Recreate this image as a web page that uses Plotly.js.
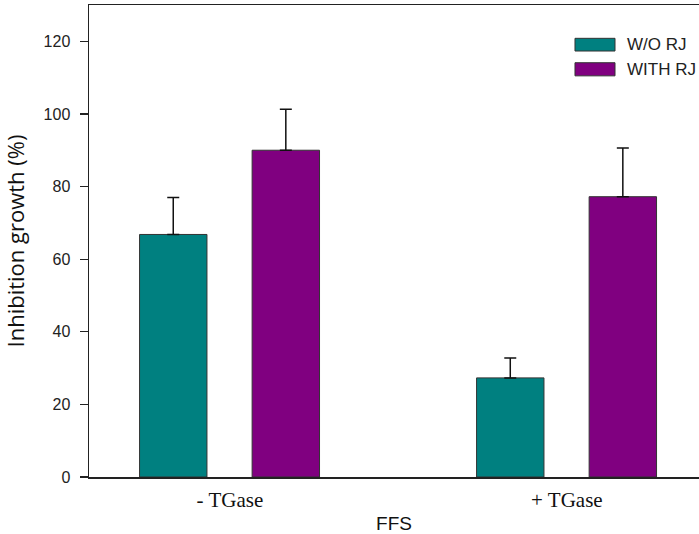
<!DOCTYPE html>
<html>
<head>
<meta charset="utf-8">
<script src="https://cdn.plot.ly/plotly-3.0.1.min.js"></script>
<style>html,body{margin:0;padding:0;background:#fff;}#chart{width:699px;height:534px;}</style>
</head>
<body>
<div id="chart"></div>
<script>
// ---- data ----
var categories = ["- TGase", "+ TGase"];
var seriesNames = ["W/O RJ", "WITH RJ"];
var withoutRJ = [66.8, 27.3];
var withoutRJErr = [10.2, 5.5];
var withRJ = [90.0, 77.2];
var withRJErr = [11.3, 13.4];
var yTickVals = [0, 20, 40, 60, 80, 100, 120];

var colors = ["#008080", "#800080"];
var values = [withoutRJ, withRJ];
var errs = [withoutRJErr, withRJErr];
var offsets = [-0.268, 0.066];

var traces = values.map(function (v, i) {
  return {
    type: "bar",
    name: seriesNames[i],
    x: categories,
    y: v,
    width: 0.2,
    offset: offsets[i],
    marker: { color: colors[i], line: { color: "#333333", width: 1 } },
    error_y: {
      type: "data",
      symmetric: false,
      array: errs[i],
      arrayminus: v.map(function () { return 0; }),
      color: "#111111",
      thickness: 1.5,
      width: 6
    },
    showlegend: false
  };
});

// manual legend (wide swatches like the reference)
var legBoxes = [[0.9025, 0.9294], [0.8499, 0.8777]];
var legTextY = [0.9167, 0.8643];
var shapes = [];
var annotations = [];
seriesNames.forEach(function (n, i) {
  shapes.push({
    type: "rect", xref: "paper", yref: "paper",
    x0: 0.7967, x1: 0.8623, y0: legBoxes[i][0], y1: legBoxes[i][1],
    fillcolor: colors[i], line: { color: "#333333", width: 1 }
  });
  annotations.push({
    xref: "paper", yref: "paper", x: 0.8787, y: legTextY[i],
    xanchor: "left", yanchor: "middle", showarrow: false, text: n,
    font: { family: "Liberation Sans, Arial, sans-serif", size: 17, color: "#222222" }
  });
});

var layout = {
  width: 699,
  height: 534,
  margin: { l: 89, r: 0, t: 5, b: 57, pad: 0 },
  paper_bgcolor: "#ffffff",
  plot_bgcolor: "#ffffff",
  barmode: "overlay",
  showlegend: false,
  xaxis: {
    type: "category",
    range: [-0.418, 1.392],
    showline: true,
    mirror: true,
    linecolor: "#222222",
    linewidth: 1.5,
    ticks: "",
    showgrid: false,
    zeroline: false,
    ticklabelstandoff: 3,
    tickfont: { family: "Liberation Serif, Times New Roman, serif", size: 21, color: "#111111" },
    title: {
      text: "FFS",
      font: { family: "Liberation Sans, Arial, sans-serif", size: 19, color: "#111111" },
      standoff: 8
    },
    fixedrange: true
  },
  yaxis: {
    range: [0, 130],
    tickvals: yTickVals,
    showline: true,
    mirror: false,
    linecolor: "#222222",
    linewidth: 1.5,
    ticks: "outside",
    ticklen: 8,
    tickwidth: 1.2,
    tickcolor: "#222222",
    showgrid: false,
    zeroline: false,
    ticklabelstandoff: 6,
    tickfont: { family: "Liberation Sans, Arial, sans-serif", size: 16, color: "#222222" },
    title: {
      text: "Inhibition growth (%)",
      font: { family: "Open Sans, Liberation Sans, sans-serif", size: 22, color: "#111111" },
      standoff: 16
    },
    fixedrange: true
  },
  shapes: shapes,
  annotations: annotations
};

Plotly.newPlot("chart", traces, layout, { displayModeBar: false, staticPlot: true });
</script>
</body>
</html>
